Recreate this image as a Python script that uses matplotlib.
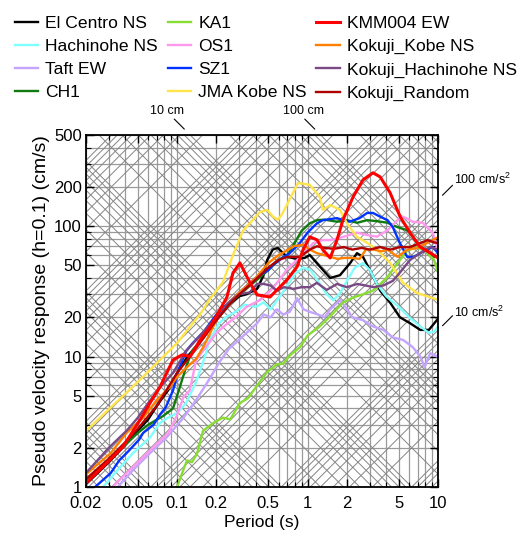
import numpy as np
import matplotlib
matplotlib.use("Agg")
import matplotlib.pyplot as plt
from matplotlib.ticker import FixedLocator, NullFormatter

plt.rcParams['font.family'] = ['Liberation Sans', 'DejaVu Sans']
plt.rcParams['mathtext.fontset'] = 'custom'
plt.rcParams['mathtext.rm'] = 'Liberation Sans'

##### data (period in s, pseudo velocity in cm/s) #####
elcentro_T = [0.02, 0.025, 0.03, 0.04, 0.05, 0.06, 0.07, 0.085, 0.1, 0.12, 0.15, 0.2, 0.25, 0.3, 0.34,
              0.41, 0.46, 0.49, 0.54, 0.59, 0.65, 0.7, 0.83, 0.95, 1.04, 1.24, 1.49, 1.77, 2.12, 2.39,
              2.66, 3.0, 3.6, 4.3, 5.1, 6.1, 7.3, 8.5, 10]
elcentro_S = [1.05, 1.3, 1.55, 2.1, 2.7, 3.3, 4.2, 5.5, 7.5, 10, 13, 19, 25, 29, 30,
              33, 42, 55, 66, 68, 62, 58, 56, 57, 60, 49, 40, 42, 52, 62,
              58, 46, 32, 25.8, 20, 18, 16, 16, 19.5]

hachinohe_T = [0.027, 0.035, 0.046, 0.062, 0.074, 0.085, 0.1, 0.117, 0.139, 0.148, 0.166, 0.175, 0.21,
               0.236, 0.28, 0.33, 0.4, 0.46, 0.52, 0.6, 0.7, 0.8, 0.92, 1.05, 1.2, 1.4, 1.57, 1.75,
               2.0, 2.3, 2.66, 3.0, 3.4, 4.0, 5.0, 6.0, 7.3, 8.5, 9.3, 10]
hachinohe_S = [1.0, 1.35, 1.82, 2.4, 3.1, 3.4, 3.7, 4.4, 6.3, 7.5, 10.5, 13, 18,
               20, 22, 25, 24, 26, 23, 28, 35, 43, 48, 46, 38, 30, 27, 30,
               38, 48, 52, 46, 36, 29, 24, 20, 17, 15.2, 15.5, 17]

taft_T = [0.035, 0.046, 0.062, 0.083, 0.112, 0.14, 0.175, 0.21, 0.25, 0.3, 0.36, 0.41, 0.46, 0.52,
          0.58, 0.65, 0.73, 0.83, 0.93, 1.04, 1.2, 1.35, 1.49, 1.77, 1.95, 2.2, 2.66, 3.17, 3.8,
          4.5, 5.4, 6.4, 7.3, 7.9, 8.7, 9.8, 10]
taft_S = [1.0, 1.35, 1.82, 2.4, 3.4, 4.65, 6.6, 9, 11.5, 13.5, 16, 18, 21, 20,
          23, 21, 22, 28, 23, 22, 21, 20, 23, 27, 24, 20, 19, 17, 16,
          14, 13.4, 11.8, 10, 8.3, 10.6, 10, 10.4]

ch1_T = [0.02, 0.03, 0.04, 0.05, 0.06, 0.078, 0.093, 0.103, 0.117, 0.13, 0.16, 0.2, 0.25, 0.3, 0.4,
         0.5, 0.6, 0.7, 0.8, 0.9, 1.04, 1.18, 1.35, 1.68, 2.0, 2.4, 2.86, 3.4, 4.1, 4.9, 5.8, 6.4,
         7.3, 8.2, 9.1, 10]
ch1_S = [1.1, 1.6, 2.1, 2.6, 3.0, 3.5, 4.0, 5.5, 8.3, 11, 14, 20, 25, 30, 38,
         46, 55, 60, 75, 92, 105, 111, 112, 108, 111, 106, 111, 109, 106, 98, 93, 83,
         69, 66, 58, 58]

ka1_T = [0.1, 0.11, 0.119, 0.13, 0.142, 0.158, 0.19, 0.224, 0.255, 0.303, 0.35, 0.41, 0.49, 0.58,
         0.65, 0.73, 0.875, 1.0, 1.24, 1.5, 1.87, 2.23, 2.66, 3.17, 3.41, 4.1, 4.9, 5.8, 6.9, 8.2,
         9.3, 10]
ka1_S = [1.0, 1.3, 1.6, 1.55, 1.8, 2.7, 3.1, 3.4, 3.3, 4.4, 4.8, 6.0, 7.6, 8.7,
         8.8, 10.2, 11.8, 14.5, 17, 20.5, 26, 28.3, 30, 32, 34, 40.8, 52, 65, 69, 63,
         55, 44]

os1_T = [0.032, 0.04, 0.05, 0.06, 0.075, 0.086, 0.098, 0.112, 0.125, 0.14, 0.166, 0.2, 0.236, 0.28,
         0.34, 0.43, 0.52, 0.6, 0.7, 0.83, 1.0, 1.1, 1.3, 1.5, 1.9, 2.39, 2.9, 3.4, 4.1, 4.9, 5.4,
         6.4, 7.6, 9.1, 10]
os1_S = [1.0, 1.25, 1.55, 1.85, 2.3, 2.6, 3.4, 4.9, 5.5, 9.4, 11.8, 15.2, 17.5, 20,
         24, 27, 32, 38, 47, 55, 66, 74, 78, 78, 83, 89, 85, 83, 93, 111, 118,
         108, 106, 89, 64]

sz1_T = [0.0235, 0.031, 0.036, 0.041, 0.051, 0.055, 0.066, 0.074, 0.082, 0.093, 0.103, 0.117, 0.13,
         0.14, 0.16, 0.2, 0.25, 0.3, 0.4, 0.5, 0.54, 0.64, 0.73, 0.87, 1.0, 1.1, 1.18, 1.31, 1.68,
         1.87, 2.1, 2.5, 2.86, 3.17, 3.6, 4.1, 4.5, 5.1, 5.8, 6.5, 7.3, 8.2, 9.1, 10]
sz1_S = [1.0, 1.28, 1.6, 1.82, 2.3, 2.6, 3.0, 3.6, 4.1, 5.5, 8.0, 11, 12.5,
         13.5, 15.5, 21, 26, 31, 40, 46, 50, 57, 62, 74, 89, 98, 105, 111, 115,
         111, 108, 115, 126, 126, 118, 111, 98, 74, 58, 58, 62, 66, 69, 62]

jma_T = [0.02, 0.05, 0.1, 0.126, 0.15, 0.18, 0.224, 0.268, 0.32, 0.36, 0.43, 0.49, 0.543, 0.593,
         0.64, 0.733, 0.845, 1.04, 1.24, 1.31, 1.49, 1.77, 2.0, 2.39, 2.86, 3.41, 4.29, 5.4, 6.9, 10]
jma_S = [2.69, 6.4, 12.7, 17, 21, 28, 37, 60, 92, 105, 128, 133, 118, 112,
         124, 162, 214, 207, 167, 133, 145, 133, 105, 82.6, 74.3, 65.7, 52.2, 36.7, 30.7, 27.2]

kmm_T = [0.02, 0.029, 0.0384, 0.0519, 0.062, 0.0739, 0.093, 0.109, 0.126, 0.15, 0.179, 0.213, 0.241,
         0.268, 0.303, 0.362, 0.41, 0.515, 0.583, 0.695, 0.83, 0.923, 1.04, 1.18, 1.31, 1.49, 1.68,
         1.87, 2.23, 2.66, 3.17, 3.6, 4.29, 5.12, 6.11, 7.28, 8.68, 10]
kmm_S = [1.07, 1.53, 2.03, 3.26, 4.41, 5.85, 9.42, 10.3, 10.0, 13.4, 16.9, 22.8, 28.6,
         43.8, 52.2, 36.7, 29.7, 28.6, 32.4, 38.7, 48.7, 65.7, 82.6, 78.4, 65.7, 57.0, 78.4,
         112, 167, 226, 256, 238, 180, 118, 88.7, 69.2, 62.3, 57]

kkobe_T = [0.02, 0.031, 0.041, 0.055, 0.07, 0.088, 0.1, 0.119, 0.14, 0.16, 0.2, 0.25, 0.3, 0.4, 0.5,
           0.6, 0.64, 0.78, 0.92, 1.04, 1.18, 1.5, 1.7, 1.9, 2.2, 2.5, 2.8, 3.2, 3.7, 4.1, 4.9, 5.8,
           6.9, 8.2, 10]
kkobe_S = [1.25, 1.82, 2.6, 3.4, 4.65, 5.85, 7.0, 8.3, 9.6, 12, 19, 26, 31, 40, 52,
           60, 62, 70, 72, 66, 62, 58, 56, 57, 57, 56, 66, 66, 64, 66, 58, 66,
           68, 74, 82]

khachi_T = [0.02, 0.03, 0.041, 0.05, 0.06, 0.075, 0.093, 0.117, 0.15, 0.2, 0.25, 0.3, 0.36, 0.41,
            0.46, 0.52, 0.58, 0.66, 0.78, 0.9, 1.04, 1.18, 1.4, 1.68, 2.0, 2.4, 2.8, 3.2, 3.8, 4.5,
            5.1, 6.1, 7.3, 8.7, 10]
khachi_S = [1.28, 2.0, 2.7, 3.4, 4.4, 5.9, 7.5, 11, 14.5, 20, 26, 30, 31, 36,
            36, 35, 32, 34, 33, 34, 34, 36.7, 32.4, 36, 34, 36, 35, 34, 35, 38,
            44, 55, 62, 69, 66]

krandom_T = [0.02, 0.03, 0.04, 0.05, 0.07, 0.1, 0.13, 0.16, 0.2, 0.25, 0.3, 0.4, 0.5, 0.6, 0.7, 0.87,
             1.04, 1.18, 1.35, 1.6, 1.9, 2.2, 2.6, 3.0, 3.6, 4.3, 5.1, 6.1, 7.3, 8.3, 9.3, 10]
krandom_S = [1.15, 1.65, 2.2, 2.8, 4.2, 7.5, 10.5, 14, 19, 25, 30, 39, 48, 55, 58, 58,
             66, 70, 68, 67, 69, 66, 68, 66, 69, 66, 69, 69, 74, 78, 75, 74]

names = ['El Centro NS', 'Hachinohe NS', 'Taft EW', 'CH1', 'KA1', 'OS1', 'SZ1', 'JMA Kobe NS',
         'KMM004 EW', 'Kokuji_Kobe NS', 'Kokuji_Hachinohe NS', 'Kokuji_Random']
periods = [elcentro_T, hachinohe_T, taft_T, ch1_T, ka1_T, os1_T, sz1_T, jma_T,
           kmm_T, kkobe_T, khachi_T, krandom_T]
spectra = [elcentro_S, hachinohe_S, taft_S, ch1_S, ka1_S, os1_S, sz1_S, jma_S,
           kmm_S, kkobe_S, khachi_S, krandom_S]
colors = ['#000000', '#80ffff', '#c4a4ff', '#107a10', '#88dd33', '#ff99ee', '#0033ff', '#ffe44a',
          '#ff0000', '#ff7f00', '#7a4a85', '#b00000']

xticks = [0.02, 0.05, 0.1, 0.2, 0.5, 1, 2, 5, 10]
yticks = [1, 2, 5, 10, 20, 50, 100, 200, 500]

##### figure #####
fig = plt.figure(figsize=(5.24, 5.36), dpi=100)
ax = fig.add_axes([0.164, 0.0914, 0.672, 0.657])
ax.set_xscale('log')
ax.set_yscale('log')

# log grid values 1..9 per decade
grid_v = [k * 10.0 ** n for n in range(-2, 3) for k in range(1, 10)]
Tl = np.array([0.02, 10.0])
for v in grid_v:
    if 0.02 <= v <= 10:
        ax.axvline(v, color='#9a9a9a', lw=0.9, zorder=1)
    if 1 <= v <= 500:
        ax.axhline(v, color='#9a9a9a', lw=0.9, zorder=1)

# tripartite diagonals: displacement (cm) and acceleration (cm/s2)
diag_v = [k * 10.0 ** n for n in range(-3, 7) for k in range(1, 10)]
for d in diag_v:
    if d <= 1000:
        ax.plot(Tl, 2 * np.pi * d / Tl, color='#858585', lw=0.7, zorder=1)
    if d >= 0.1:
        ax.plot(Tl, d * Tl / (2 * np.pi), color='#858585', lw=0.7, zorder=1)

for i in range(len(names)):
    lw = 2.2 if names[i] == 'KMM004 EW' else 1.7
    z = 4 if names[i] == 'KMM004 EW' else 3
    ax.plot(periods[i], spectra[i], color=colors[i], lw=lw, label=names[i], zorder=z)

ax.set_xlim(0.02, 10)
ax.set_ylim(1, 500)
ax.xaxis.set_major_locator(FixedLocator(xticks))
ax.yaxis.set_major_locator(FixedLocator(yticks))
ax.set_xticklabels(['0.02', '0.05', '0.1', '0.2', '0.5', '1', '2', '5', '10'])
ax.set_yticklabels(['1', '2', '5', '10', '20', '50', '100', '200', '500'])
ax.xaxis.set_minor_locator(FixedLocator([v for v in grid_v if 0.02 <= v <= 10]))
ax.yaxis.set_minor_locator(FixedLocator([v for v in grid_v if 1 <= v <= 500]))
ax.xaxis.set_minor_formatter(NullFormatter())
ax.yaxis.set_minor_formatter(NullFormatter())
ax.tick_params(which='both', direction='in', top=True, right=True, labelsize=12, color='black')
ax.tick_params(which='major', length=6, width=1.0)
ax.tick_params(which='minor', length=3.5, width=0.8)
ax.tick_params(axis='x', pad=6.5)
ax.tick_params(axis='y', pad=3)
for s in ax.spines.values():
    s.set_linewidth(1.3)
    s.set_zorder(5)

ax.set_xlabel('Period (s)', fontsize=12.5, labelpad=3)
ax.set_ylabel('Pseudo velocity response (h=0.1) (cm/s)', fontsize=14, labelpad=3)

# labels for the diagonal families
for d, tx in [(10, 0.0836), (100, 0.923)]:
    s0, s1 = 500 * 10 ** 0.045, 500 * 10 ** 0.12
    ax.plot([2 * np.pi * d / s0, 2 * np.pi * d / s1], [s0, s1], color='black', lw=0.8, clip_on=False)
    ax.text(tx, 764, '%d cm' % d, fontsize=9, ha='center', va='center', clip_on=False)
for a, sy in [(100, 226), (10, 21.6)]:
    t0, t1 = 10 * 10 ** 0.035, 10 * 10 ** 0.11
    ax.plot([t0, t1], [a * t0 / (2 * np.pi), a * t1 / (2 * np.pi)], color='black', lw=0.8, clip_on=False)
    ax.text(13.3, sy, '%d cm/s$^2$' % a, fontsize=9, ha='left', va='center', clip_on=False)

fig.legend(loc='upper left', bbox_to_anchor=(0.008, 0.99), ncol=3, frameon=False, fontsize=12.6,
           handlelength=1.35, handletextpad=0.4, columnspacing=0.55, labelspacing=0.45, borderaxespad=0.2)

fig.savefig('out.png', dpi=100)
